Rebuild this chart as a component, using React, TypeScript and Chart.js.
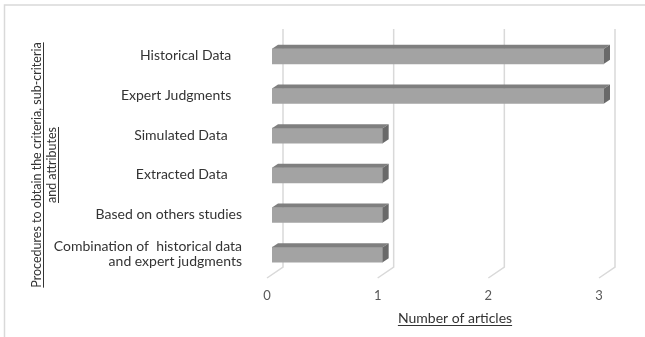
import { useEffect, useRef } from 'react';
import { Chart, registerables } from 'chart.js';

Chart.register(...registerables);

// Procedures and how many articles used each one
const categories: (string | string[])[] = [
  'Historical Data   ',
  'Expert Judgments   ',
  'Simulated Data    ',
  'Extracted Data    ',
  'Based on others studies',
  ['Combination of  historical data', 'and expert judgments'],
];
const articleCounts = [3, 3, 1, 1, 1, 1];
const countTicks = [0, 1, 2, 3];

const yTitleLines = ['Procedures to obtain the criteria, sub-criteria', 'and attributes'];
const xTitle = 'Number of articles';

const FONT = 'Lato, "Open Sans", sans-serif';

// depth of the 3D box (floor front edge -> back wall)
const DEPTH_X = 16;
const DEPTH_Y = 11;
// bars sit inside the depth: front face offset and bar thickness
const BAR_SHIFT_X = 5;
const BAR_SHIFT_Y = -3.5;
const BAR_DX = 6;
const BAR_DY = 4;

const box3d = {
  id: 'box3d',
  beforeDatasetsDraw(chart: any) {
    const { ctx, chartArea: a, scales } = chart;
    const xs = scales.x;
    ctx.save();
    ctx.strokeStyle = '#d9d9d9';
    ctx.lineWidth = 1.5;
    xs.ticks.forEach((t: any) => {
      const px = xs.getPixelForValue(t.value);
      ctx.beginPath();
      ctx.moveTo(px + DEPTH_X, a.top - DEPTH_Y);
      ctx.lineTo(px + DEPTH_X, a.bottom - DEPTH_Y);
      ctx.lineTo(px, a.bottom);
      ctx.stroke();
    });
    ctx.restore();
    ctx.save();
    ctx.translate(BAR_SHIFT_X, BAR_SHIFT_Y);
  },
  afterDatasetsDraw(chart: any) {
    const { ctx } = chart;
    ctx.restore();
    const meta = chart.getDatasetMeta(0);
    ctx.save();
    meta.data.forEach((bar: any) => {
      const { x, y, base, height } = bar.getProps(['x', 'y', 'base', 'height'], true);
      const x0 = Math.min(x, base) + BAR_SHIFT_X;
      const x1 = Math.max(x, base) + BAR_SHIFT_X;
      const y0 = y - height / 2 + BAR_SHIFT_Y;
      const y1 = y + height / 2 + BAR_SHIFT_Y;
      // top face
      ctx.fillStyle = '#7f7f7f';
      ctx.beginPath();
      ctx.moveTo(x0, y0);
      ctx.lineTo(x0 + BAR_DX, y0 - BAR_DY);
      ctx.lineTo(x1 + BAR_DX, y0 - BAR_DY);
      ctx.lineTo(x1, y0);
      ctx.closePath();
      ctx.fill();
      // right side face
      ctx.fillStyle = '#696969';
      ctx.beginPath();
      ctx.moveTo(x1, y0);
      ctx.lineTo(x1 + BAR_DX, y0 - BAR_DY);
      ctx.lineTo(x1 + BAR_DX, y1 - BAR_DY);
      ctx.lineTo(x1, y1);
      ctx.closePath();
      ctx.fill();
    });
    ctx.restore();
  },
  afterDraw(chart: any) {
    const { ctx, width, height } = chart;
    ctx.save();
    // outer frame (top and left edges)
    ctx.strokeStyle = '#d9d9d9';
    ctx.lineWidth = 1.5;
    ctx.beginPath();
    ctx.moveTo(width, 5);
    ctx.lineTo(4.5, 5);
    ctx.lineTo(4.5, height);
    ctx.stroke();

    ctx.fillStyle = '#333333';
    ctx.strokeStyle = '#333333';
    ctx.lineWidth = 1;
    ctx.textBaseline = 'alphabetic';
    ctx.textAlign = 'center';

    // x axis title, underlined
    ctx.font = `14px ${FONT}`;
    const tx = 455;
    const ty = 323;
    ctx.fillText(xTitle, tx, ty);
    const xw = ctx.measureText(xTitle).width;
    ctx.beginPath();
    ctx.moveTo(tx - xw / 2, ty + 2.5);
    ctx.lineTo(tx + xw / 2, ty + 2.5);
    ctx.stroke();

    // y axis title, rotated and underlined
    ctx.font = `12.5px ${FONT}`;
    ctx.translate(0, 165);
    ctx.rotate(-Math.PI / 2);
    const baselines = [41, 56];
    yTitleLines.forEach((line, i) => {
      const b = baselines[i];
      ctx.fillText(line, 0, b);
      const w = ctx.measureText(line).width;
      ctx.beginPath();
      ctx.moveTo(-w / 2, b + 2.5);
      ctx.lineTo(w / 2, b + 2.5);
      ctx.stroke();
    });
    ctx.restore();
  },
};

export default function App() {
  const ref = useRef<HTMLCanvasElement | null>(null);

  useEffect(() => {
    document.body.style.margin = '0';
    if (!ref.current) return;
    const chart = new Chart(ref.current, {
      type: 'bar',
      data: {
        labels: categories,
        datasets: [
          {
            data: articleCounts,
            backgroundColor: '#a3a3a3',
            borderWidth: 0,
            barThickness: 15,
          },
        ],
      },
      options: {
        indexAxis: 'y',
        responsive: false,
        animation: false,
        layout: { padding: { left: 0, right: 46, top: 40, bottom: 0 } },
        plugins: {
          legend: { display: false },
          tooltip: { enabled: false },
        },
        scales: {
          x: {
            min: countTicks[0],
            max: countTicks[countTicks.length - 1],
            grid: { display: false, drawTicks: false },
            border: { display: false },
            ticks: {
              stepSize: 1,
              padding: 10,
              color: '#595959',
              font: { family: FONT, size: 13 },
            },
            afterFit: (s: any) => {
              s.height = 59;
            },
          },
          y: {
            grid: { display: false, drawTicks: false },
            border: { display: false },
            ticks: {
              padding: 25,
              labelOffset: -4,
              color: '#333333',
              font: { family: FONT, size: 14, lineHeight: 1.05 },
            },
            afterFit: (s: any) => {
              s.width = 267;
            },
          },
        },
      },
      plugins: [box3d],
    });
    return () => chart.destroy();
  }, []);

  return <canvas ref={ref} width={645} height={337} />;
}
